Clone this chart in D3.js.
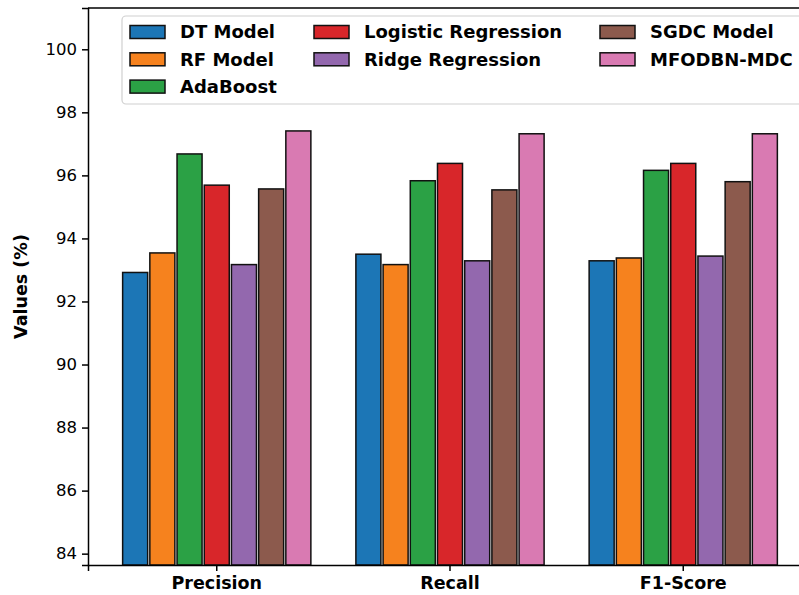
<!DOCTYPE html>
<html>
<head>
<meta charset="utf-8">
<script src="https://cdn.jsdelivr.net/npm/d3@7"></script>
<style>
  body { margin: 0; background: #fff; }
  svg { display: block; font-family: "DejaVu Sans", sans-serif; }
  .axis path, .axis line { stroke: #000; stroke-width: 1.5; }
  .axis text { fill: #000; }
</style>
</head>
<body>
<div id="chart"></div>
<script>
// data
const categories = ["Precision", "Recall", "F1-Score"];
const models = ["DT Model", "RF Model", "AdaBoost", "Logistic Regression", "Ridge Regression", "SGDC Model", "MFODBN-MDC"];
const colors = ["#1c76b6", "#f6821e", "#2ba145", "#d8262a", "#9368ae", "#8c5a4d", "#d97ab2"];
const dtModel = [92.92, 93.50, 93.29];
const rfModel = [93.54, 93.17, 93.38];
const adaBoost = [96.68, 95.83, 96.16];
const logistic = [95.69, 96.38, 96.38];
const ridge = [93.17, 93.29, 93.44];
const sgdc = [95.57, 95.54, 95.80];
const mfodbn = [97.41, 97.32, 97.32];
const yTicks = [84, 86, 88, 90, 92, 94, 96, 98, 100];

const series = [dtModel, rfModel, adaBoost, logistic, ridge, sgdc, mfodbn];

const width = 799, height = 595;
const margin = {top: 8, right: -13, bottom: 30, left: 88};
const innerW = width - margin.left - margin.right;
const innerH = height - margin.top - margin.bottom;

const svg = d3.select("#chart").append("svg")
    .attr("width", width)
    .attr("height", height);

const g = svg.append("g")
    .attr("transform", `translate(${margin.left},${margin.top})`);

// scales
const x0 = d3.scaleBand()
    .domain(categories)
    .range([0, innerW])
    .paddingInner(0)
    .paddingOuter(0.052);

const x1 = d3.scaleBand()
    .domain(models)
    .range([-95.2, 95.2])
    .paddingInner(0.08)
    .paddingOuter(0.04);

const y = d3.scaleLinear()
    .domain([83.64, 101.31])
    .range([innerH, 0]);

// bars
const rows = [];
categories.forEach((c, i) => {
    models.forEach((m, j) => {
        rows.push({cat: c, model: m, value: series[j][i], color: colors[j]});
    });
});

g.selectAll(".bar")
    .data(rows)
    .enter().append("rect")
    .attr("class", "bar")
    .attr("x", d => x0(d.cat) + x0.bandwidth() / 2 + x1(d.model))
    .attr("width", x1.bandwidth())
    .attr("y", d => y(d.value))
    .attr("height", d => innerH - y(d.value))
    .attr("fill", d => d.color)
    .attr("stroke", "#111")
    .attr("stroke-width", 1.5);

// axes
const yAxis = d3.axisLeft(y).tickValues(yTicks).tickSizeOuter(0).tickSize(6).tickPadding(5);
const xAxis = d3.axisBottom(x0).tickSizeOuter(0).tickSize(6).tickPadding(6);

g.append("g")
    .attr("class", "y-axis axis")
    .call(yAxis)
    .selectAll("text")
    .attr("font-size", 16.5)
    .attr("font-family", "DejaVu Sans");

g.append("g")
    .attr("class", "x-axis axis")
    .attr("transform", `translate(0,${innerH})`)
    .call(xAxis)
    .selectAll("text")
    .attr("font-size", 17.5)
    .attr("font-weight", "bold")
    .attr("font-family", "DejaVu Sans");

// top and right spines
g.append("line")
    .attr("x1", 0).attr("x2", innerW)
    .attr("y1", 0).attr("y2", 0)
    .attr("stroke", "#000").attr("stroke-width", 1.5);
g.append("line")
    .attr("x1", innerW).attr("x2", innerW)
    .attr("y1", 0).attr("y2", innerH)
    .attr("stroke", "#000").attr("stroke-width", 1.5);

// y label
svg.append("text")
    .attr("transform", `translate(27,${margin.top + innerH / 2}) rotate(-90)`)
    .attr("text-anchor", "middle")
    .attr("font-size", 17.5)
    .attr("font-weight", "bold")
    .text("Values (%)");

// legend
const legend = svg.append("g").attr("class", "legend");
legend.append("rect")
    .attr("x", 122).attr("y", 16)
    .attr("width", 700).attr("height", 88)
    .attr("rx", 4)
    .attr("fill", "#fff")
    .attr("fill-opacity", 0.8)
    .attr("stroke", "#d0d0d0")
    .attr("stroke-width", 1.2);

const colX = [130, 314, 600];
const colOf = [0, 0, 0, 1, 1, 2, 2];
const rowOf = [0, 1, 2, 0, 1, 0, 1];

const items = legend.selectAll(".item")
    .data(models)
    .enter().append("g")
    .attr("class", "item")
    .attr("transform", (d, i) => `translate(${colX[colOf[i]]},${32 + rowOf[i] * 27.3})`);

items.append("rect")
    .attr("x", 0).attr("y", -6.5)
    .attr("width", 35).attr("height", 13)
    .attr("fill", (d, i) => colors[i])
    .attr("stroke", "#111")
    .attr("stroke-width", 1.5);

items.append("text")
    .attr("x", 50).attr("y", 0)
    .attr("dy", "0.36em")
    .attr("font-size", 18)
    .attr("font-weight", "bold")
    .text(d => d);
</script>
</body>
</html>
